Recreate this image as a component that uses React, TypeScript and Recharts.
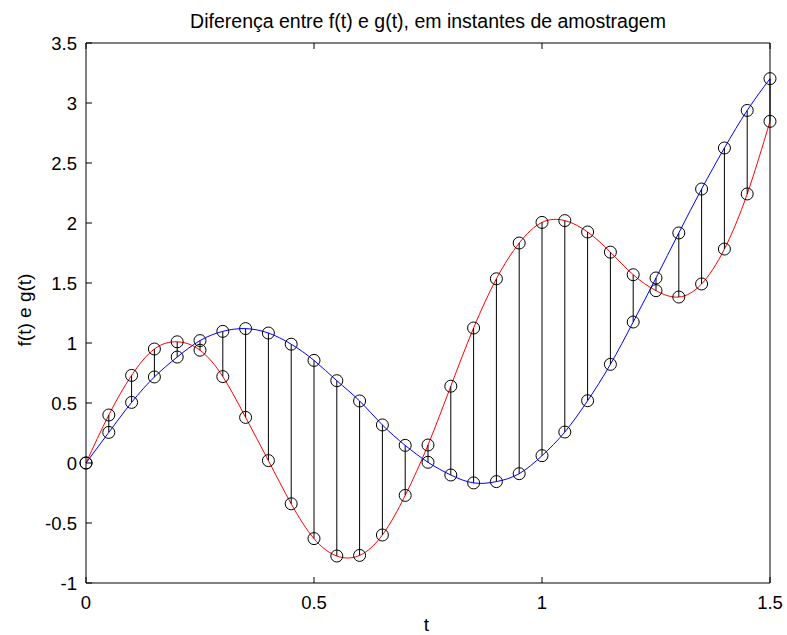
import React from 'react';
import { ComposedChart, Line, XAxis, YAxis, ReferenceLine } from 'recharts';

// sampling instants
const tValues = [
  0, 0.05, 0.1, 0.15, 0.2, 0.25, 0.3, 0.35, 0.4, 0.45, 0.5, 0.55, 0.6, 0.65, 0.7, 0.75,
  0.8, 0.85, 0.9, 0.95, 1, 1.05, 1.1, 1.15, 1.2, 1.25, 1.3, 1.35, 1.4, 1.45, 1.5,
];

// f(t), red curve
const fValues = [
  0, 0.4, 0.73, 0.95, 1.01, 0.94, 0.72, 0.38, 0.02, -0.34, -0.63, -0.775, -0.77, -0.6, -0.27, 0.15,
  0.64, 1.125, 1.535, 1.833, 2.005, 2.02, 1.925, 1.757, 1.569, 1.436, 1.383, 1.492, 1.783, 2.242, 2.847,
];

// g(t), blue curve
const gValues = [
  0, 0.255, 0.505, 0.717, 0.883, 1.02, 1.097, 1.12, 1.083, 0.99, 0.855, 0.686, 0.517, 0.317, 0.147, 0.006,
  -0.1, -0.166, -0.155, -0.089, 0.061, 0.258, 0.519, 0.822, 1.175, 1.542, 1.917, 2.283, 2.625, 2.938, 3.203,
];

const xTicks = [0, 0.5, 1, 1.5];
const yTicks = [-1, -0.5, 0, 0.5, 1, 1.5, 2, 2.5, 3, 3.5];

const data = tValues.map((t, i) => ({ t, f: fValues[i], g: gValues[i] }));

const FONT = '"Liberation Sans", Arial, Helvetica, sans-serif';
const TICK_FS = 18.5;
const TL = 6;

const BottomTick = (props: any) => {
  const { x, y, payload } = props;
  return (
    <g>
      <line x1={x} x2={x} y1={y} y2={y - TL} stroke="#000" />
      <text x={x} y={y + 26} textAnchor="middle" fontSize={TICK_FS} fontFamily={FONT} fill="#000">
        {String(payload.value)}
      </text>
    </g>
  );
};

const TopTick = (props: any) => {
  const { x, y } = props;
  return <line x1={x} x2={x} y1={y} y2={y + TL} stroke="#000" />;
};

const LeftTick = (props: any) => {
  const { x, y, payload } = props;
  return (
    <g>
      <line x1={x} x2={x + TL} y1={y} y2={y} stroke="#000" />
      <text x={x - 9} y={y + 6.6} textAnchor="end" fontSize={TICK_FS} fontFamily={FONT} fill="#000">
        {String(payload.value)}
      </text>
    </g>
  );
};

const RightTick = (props: any) => {
  const { x, y } = props;
  return <line x1={x} x2={x - TL} y1={y} y2={y} stroke="#000" />;
};

const circle = { r: 6, stroke: '#000', strokeWidth: 1, fill: 'none' };

export default function App() {
  return (
    <div style={{ position: 'absolute', left: 0, top: 0, width: 787, height: 635, background: '#fff' }}>
      <ComposedChart
        width={787}
        height={635}
        data={data}
        margin={{ top: 33, right: 7, bottom: 22, left: 46 }}
      >
        <XAxis
          dataKey="t"
          type="number"
          domain={[0, 1.5]}
          ticks={xTicks}
          interval={0}
          height={30}
          tickSize={0}
          tickMargin={0}
          stroke="#000"
          tickLine={false}
          tick={BottomTick}
        />
        <XAxis
          xAxisId="top"
          orientation="top"
          dataKey="t"
          type="number"
          domain={[0, 1.5]}
          ticks={xTicks}
          interval={0}
          height={10}
          tickSize={0}
          tickMargin={0}
          stroke="#000"
          tickLine={false}
          tick={TopTick}
        />
        <YAxis
          type="number"
          domain={[-1, 3.5]}
          ticks={yTicks}
          interval={0}
          width={40}
          tickSize={0}
          tickMargin={0}
          stroke="#000"
          tickLine={false}
          tick={LeftTick}
        />
        <YAxis
          yAxisId="right"
          orientation="right"
          type="number"
          domain={[-1, 3.5]}
          ticks={yTicks}
          interval={0}
          width={10}
          tickSize={0}
          tickMargin={0}
          stroke="#000"
          tickLine={false}
          tick={RightTick}
        />
        <Line
          dataKey="f"
          type="natural"
          stroke="#ff0000"
          strokeWidth={1}
          dot={false}
          isAnimationActive={false}
        />
        <Line
          dataKey="g"
          type="natural"
          stroke="#0000ff"
          strokeWidth={1}
          dot={false}
          isAnimationActive={false}
        />
        {data.map((d) => (
          <ReferenceLine
            key={'s' + d.t}
            segment={[
              { x: d.t, y: d.f },
              { x: d.t, y: d.g },
            ]}
            stroke="#000"
            strokeWidth={1}
          />
        ))}
        <Line
          dataKey="f"
          stroke="none"
          dot={circle}
          activeDot={false}
          isAnimationActive={false}
        />
        <Line
          dataKey="g"
          stroke="none"
          dot={circle}
          activeDot={false}
          isAnimationActive={false}
        />
      </ComposedChart>
      <svg
        width={787}
        height={635}
        style={{ position: 'absolute', left: 0, top: 0, pointerEvents: 'none' }}
      >
        <text x={428} y={27.7} textAnchor="middle" fontSize={19.5} fontFamily={FONT} fill="#000">
          Diferença entre f(t) e g(t), em instantes de amostragem
        </text>
        <text x={426.5} y={630.5} textAnchor="middle" fontSize={19} fontFamily={FONT} fill="#000">
          t
        </text>
        <text
          transform="translate(31, 310) rotate(-90)"
          textAnchor="middle"
          fontSize={19}
          fontFamily={FONT}
          fill="#000"
        >
          f(t) e g(t)
        </text>
      </svg>
    </div>
  );
}
